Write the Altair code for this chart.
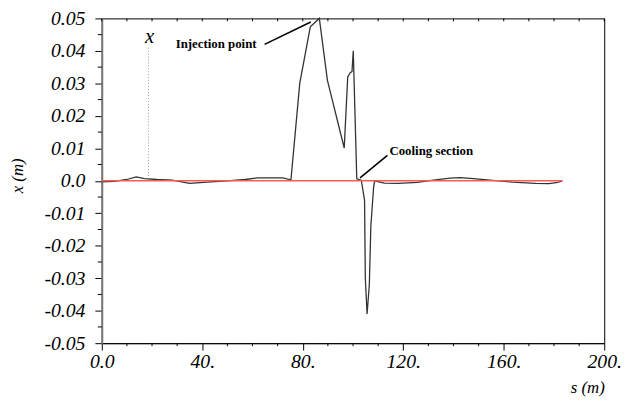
import altair as alt
import pandas as pd

# orbit deviation along the ring
s_vals = [0, 5, 10, 13.7, 17, 22, 28, 35, 42, 50, 57, 62, 72, 75.3, 78.8, 83.0, 86.6,
          89.8, 96.5, 97.9, 98.9, 99.6, 100.1, 101.5, 103.3, 104.6, 104.9, 105.6, 106.5,
          107.1, 108.2, 108.6, 112.5, 118, 125.6, 132, 138.7, 142.6, 148, 154.4, 163.5,
          172.7, 177.9, 181, 183.1]
x_vals = [-0.0003, -0.0002, 0.0004, 0.0012, 0.0007, 0.0004, 0.0002, -0.0008, -0.0004, 0.0,
          0.0004, 0.0009, 0.0009, 0.0003, 0.030, 0.0474, 0.0500, 0.031, 0.0101, 0.032,
          0.0333, 0.0336, 0.0400, 0.0006, 0.0002, -0.006, -0.030, -0.041, -0.032, -0.014,
          -0.002, 0.0, -0.0007, -0.0008, -0.0005, 0.0002, 0.0008, 0.0010, 0.0007, 0.0002,
          -0.0004, -0.0008, -0.0009, -0.0006, -0.0001]

# reference (red) line
ref_s = [0, 183.5]
ref_x = [0.0, 0.0]

# annotations (data coordinates)
inj_text = ["Injection point"]
inj_pos = [29.4, 0.0420]
inj_leader = [64.8, 0.0420, 83.2, 0.0489]
cool_text = ["Cooling section"]
cool_pos = [114.5, 0.0091]
cool_leader = [113.7, 0.0078, 102.8, 0.0009]
xmark_text = ["x"]
xmark_pos = [19.0, 0.0443]
xmark_line = [18.6, 0.0410, 0.0015]

x_major = list(range(0, 201, 40))
x_minor = [v for v in range(0, 201, 10) if v % 40 != 0]
x_all = list(range(0, 201, 10))
y_major = [round(-0.05 + i * 0.01, 2) for i in range(11)]
y_minor = [round(-0.045 + i * 0.01, 3) for i in range(10)]

SERIF = "Liberation Serif"

df = pd.DataFrame({"s": s_vals, "x": x_vals})
ref = pd.DataFrame({"s": ref_s, "x": ref_x})

xscale = alt.Scale(domain=[0, 200], nice=False, zero=False)
yscale = alt.Scale(domain=[-0.05, 0.05], nice=False, zero=False)

x_axis = alt.Axis(
    orient="bottom", values=x_major, title="s (m)",
    labelExpr="datum.value === 0 ? '0.0' : datum.value + '.'",
    tickSize=7, labelPadding=2, labelFlush=False,
    titleAnchor="end", titleAlign="right", titleX=509, titleY=50,
    titleBaseline="alphabetic",
)
y_axis = alt.Axis(
    orient="left", values=y_major, title="x (m)",
    labelExpr="datum.value === 0 ? '0.0' : (datum.value < 0 ? '-' : '') + format(abs(datum.value), '.2f')",
    tickSize=7, domainColor="#777777", domainWidth=2, labelPadding=10, labelFlush=False,
    titleAngle=-90, titleX=-80, titleY=159, titleBaseline="alphabetic", titleAlign="center",
)


def X(field):
    return alt.X(field, scale=xscale, axis=x_axis)


def Y(field):
    return alt.Y(field, scale=yscale, axis=y_axis)


curve = alt.Chart(df).mark_line(color="#333333", strokeWidth=1.3).encode(
    x=X("s:Q"), y=Y("x:Q"), order="s:Q",
)

red = alt.Chart(ref).mark_line(color="#ff5a5a", strokeWidth=1.5).encode(
    x=X("s:Q"), y=Y("x:Q"),
)

ann_text = pd.DataFrame({
    "s": [inj_pos[0], cool_pos[0]],
    "x": [inj_pos[1], cool_pos[1]],
    "t": [inj_text[0], cool_text[0]],
})
texts = alt.Chart(ann_text).mark_text(
    font=SERIF, fontWeight="bold", fontSize=13, align="left", baseline="middle", color="black"
).encode(x=X("s:Q"), y=Y("x:Q"), text="t:N")

leaders = pd.DataFrame({
    "s": [inj_leader[0], cool_leader[0]],
    "x": [inj_leader[1], cool_leader[1]],
    "s2": [inj_leader[2], cool_leader[2]],
    "x2": [inj_leader[3], cool_leader[3]],
})
lead = alt.Chart(leaders).mark_rule(color="black", strokeWidth=1.6).encode(
    x=X("s:Q"), y=Y("x:Q"), x2="s2:Q", y2="x2:Q",
)

xm = pd.DataFrame({"s": [xmark_pos[0]], "x": [xmark_pos[1]], "t": xmark_text})
xlabel = alt.Chart(xm).mark_text(
    font=SERIF, fontStyle="italic", fontSize=21, align="center", baseline="middle", color="black"
).encode(x=X("s:Q"), y=Y("x:Q"), text="t:N")

xl = pd.DataFrame({"s": [xmark_line[0]], "x": [xmark_line[1]], "x2": [xmark_line[2]]})
xline = alt.Chart(xl).mark_rule(color="#999999", strokeWidth=1, strokeDash=[1, 2]).encode(
    x=X("s:Q"), y=Y("x:Q"), y2="x2:Q",
)

# minor ticks on bottom and left, inward ticks on top
xmin_df = pd.DataFrame({"s": x_minor})
xminor = alt.Chart(xmin_df).mark_rule(color="black", strokeWidth=1).encode(
    x=X("s:Q"), y=alt.value(329), y2=alt.value(332),
)
xtop_df = pd.DataFrame({"s": x_all})
xtop = alt.Chart(xtop_df).mark_rule(color="black", strokeWidth=1).encode(
    x=X("s:Q"), y=alt.value(0), y2=alt.value(3),
)
ymin_df = pd.DataFrame({"x": y_minor})
yminor = alt.Chart(ymin_df).mark_rule(color="black", strokeWidth=1).encode(
    y=Y("x:Q"), x=alt.value(-4), x2=alt.value(0),
)

chart = alt.layer(curve, red, texts, lead, xline, xlabel, xminor, xtop, yminor).properties(
    width=509, height=329,
    autosize=alt.AutoSizeParams(type="none"),
    padding={"left": 95, "top": 8, "right": 18, "bottom": 54},
    background="white",
).configure(font=SERIF).configure_axis(
    labelFont=SERIF, labelFontStyle="italic", labelFontSize=20, labelColor="black",
    titleFont=SERIF, titleFontStyle="italic", titleFontWeight="normal", titleFontSize=17,
    titleColor="black", tickColor="black", domainColor="black", grid=False,
).configure_axisY(domainColor="#777777", domainWidth=2).configure_view(
    stroke="black", strokeWidth=1
)

chart.save("out.html", embed_options={"renderer": "svg", "actions": False})
